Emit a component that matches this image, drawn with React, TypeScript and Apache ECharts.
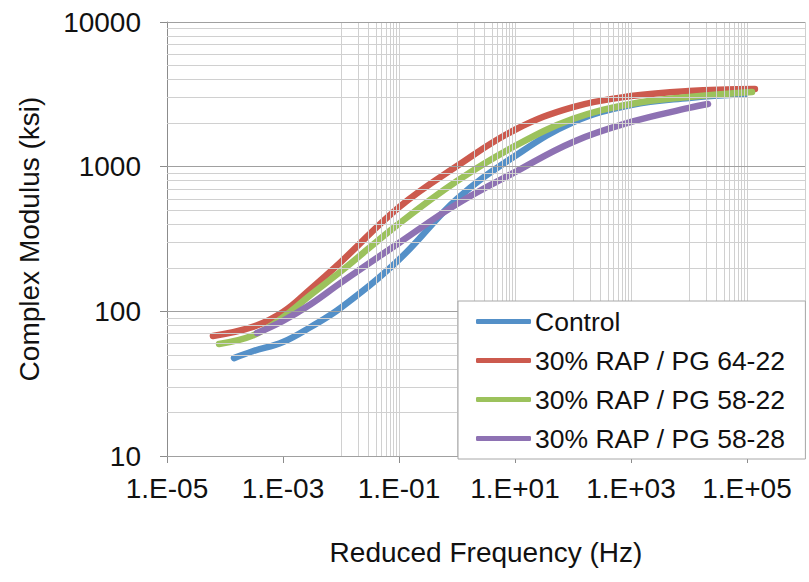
import React, { useEffect, useRef } from "react";
import * as echarts from "echarts";

// Reduced frequency (Hz) and complex modulus (ksi)
const controlX = [1.43e-4, 3e-4, 1e-3, 3e-3, 1e-2, 1e-1, 1, 10, 100, 1000, 1e4, 9.25e4];
const controlY = [47.5, 53, 61.4, 78, 106, 228, 598, 1186, 2030, 2670, 2986, 3178];

const rap6422X = [6.2e-5, 3e-4, 1e-3, 3e-3, 1e-2, 1e-1, 1, 10, 100, 1000, 1e4, 1.37e5];
const rap6422Y = [67.6, 78, 99, 143, 220, 525, 1010, 1800, 2582, 3076, 3336, 3443];

const rap5822X = [7.9e-5, 3e-4, 1e-3, 3e-3, 1e-2, 1e-1, 1, 10, 100, 1000, 1e4, 1.22e5];
const rap5822Y = [59.5, 68, 91, 130, 189, 404, 796, 1390, 2138, 2712, 3034, 3281];

const rap5828X = [3.56e-4, 1e-3, 3e-3, 1e-2, 1e-1, 1, 10, 100, 1000, 1e4, 2.13e4];
const rap5828Y = [70.8, 86, 112, 158, 297, 552, 918, 1483, 2037, 2547, 2712];

const seriesNames = ["Control", "30% RAP / PG 64-22", "30% RAP / PG 58-22", "30% RAP / PG 58-28"];
const seriesColors = ["#5490C8", "#CC5A4E", "#9CC25C", "#8E72B3"];

const xMin = 1e-5;
const xMax = 1e6;
const yMin = 10;
const yMax = 10000;

const FONT = "Liberation Sans, Arial, Helvetica, sans-serif";

function pairs(xs: number[], ys: number[]) {
  return xs.map((x, i) => [x, ys[i]]);
}

function fmtX(v: number) {
  const e = Math.round(Math.log10(v));
  if (e > 5) return "";
  const s = e < 0 ? "-" : "+";
  return "1.E" + s + String(Math.abs(e)).padStart(2, "0");
}

export default function App() {
  const ref = useRef<HTMLDivElement>(null);

  useEffect(() => {
    if (!ref.current) return;
    const chart = echarts.init(ref.current, undefined, { renderer: "svg" });

    const light = "#D0D0D0";
    const dark = "#A0A0A0";

    // vertical grid: Excel style minor lines (1..9)x10^odd, major every 2 decades
    const vLines: any[] = [];
    for (let e = -5; e <= 5; e += 2) {
      vLines.push({ xAxis: Math.pow(10, e), lineStyle: { color: light } });
    }
    for (let e = -4; e <= 4; e += 2) {
      for (let m = 1; m <= 9; m++) {
        vLines.push({ xAxis: m * Math.pow(10, e), lineStyle: { color: light } });
      }
    }
    vLines.push({ xAxis: xMax, lineStyle: { color: light } });

    const hLines: any[] = [];
    for (let e = 1; e <= 4; e++) {
      hLines.push({ yAxis: Math.pow(10, e), lineStyle: { color: dark } });
    }
    for (let e = 1; e <= 3; e++) {
      for (let m = 2; m <= 9; m++) {
        hLines.push({ yAxis: m * Math.pow(10, e), lineStyle: { color: light } });
      }
    }

    const dataSeries = [
      pairs(controlX, controlY),
      pairs(rap6422X, rap6422Y),
      pairs(rap5822X, rap5822Y),
      pairs(rap5828X, rap5828Y),
    ].map((d, i) => ({
      name: seriesNames[i],
      type: "line",
      data: d,
      smooth: 0.4,
      showSymbol: false,
      symbol: "none",
      color: seriesColors[i],
      lineStyle: { width: 6.5, color: seriesColors[i], cap: "round", join: "round" },
      z: 3,
      emphasis: { disabled: true },
    }));

    chart.setOption({
      animation: false,
      grid: { left: 167, right: 4, top: 22, bottom: 126, containLabel: false },
      xAxis: {
        type: "log",
        logBase: 10,
        min: xMin,
        max: xMax,
        interval: 2,
        name: "Reduced Frequency (Hz)",
        nameLocation: "middle",
        nameGap: 82,
        nameTextStyle: { fontSize: 28, fontFamily: FONT, color: "#111" },
        axisLine: { show: true, lineStyle: { color: "#8C8C8C", width: 1 } },
        axisTick: { show: true, length: 7, lineStyle: { color: "#8C8C8C" } },
        axisLabel: {
          formatter: fmtX,
          fontSize: 28,
          fontFamily: FONT,
          color: "#111",
          margin: 18,
          showMaxLabel: false,
        },
        splitLine: { show: false },
      },
      yAxis: {
        type: "log",
        logBase: 10,
        min: yMin,
        max: yMax,
        name: "Complex Modulus (ksi)",
        nameLocation: "middle",
        nameGap: 124,
        nameRotate: 90,
        nameTextStyle: { fontSize: 28, fontFamily: FONT, color: "#111" },
        axisLine: { show: true, lineStyle: { color: "#8C8C8C", width: 1 } },
        axisTick: { show: true, length: 7, lineStyle: { color: "#8C8C8C" } },
        axisLabel: {
          formatter: (v: number) => String(Math.round(v)),
          fontSize: 28,
          fontFamily: FONT,
          color: "#111",
          margin: 26,
        },
        splitLine: { show: false },
      },
      legend: {
        orient: "vertical",
        left: 458,
        top: 301,
        padding: [7, 20, 7, 18],
        backgroundColor: "#FFFFFF",
        borderColor: "#A8A8A8",
        borderWidth: 1,
        itemWidth: 55,
        itemHeight: 5,
        itemGap: 12,
        icon: "roundRect",
        data: seriesNames,
        textStyle: { fontSize: 26.5, fontFamily: FONT, color: "#111", lineHeight: 26, padding: [0, 0, 0, -1] },
        selectedMode: false,
        z: 10,
      },
      series: [
        {
          name: "grid",
          type: "line",
          data: [],
          z: 1,
          silent: true,
          markLine: {
            silent: true,
            symbol: ["none", "none"],
            label: { show: false },
            emphasis: { disabled: true },
            lineStyle: { type: "solid", width: 1, color: light },
            data: [...vLines, ...hLines],
          },
        },
        ...dataSeries,
      ],
    });

    return () => {
      chart.dispose();
    };
  }, []);

  return (
    <div
      ref={ref}
      style={{ position: "fixed", left: 0, top: 0, width: 809, height: 582, background: "#fff" }}
    />
  );
}
